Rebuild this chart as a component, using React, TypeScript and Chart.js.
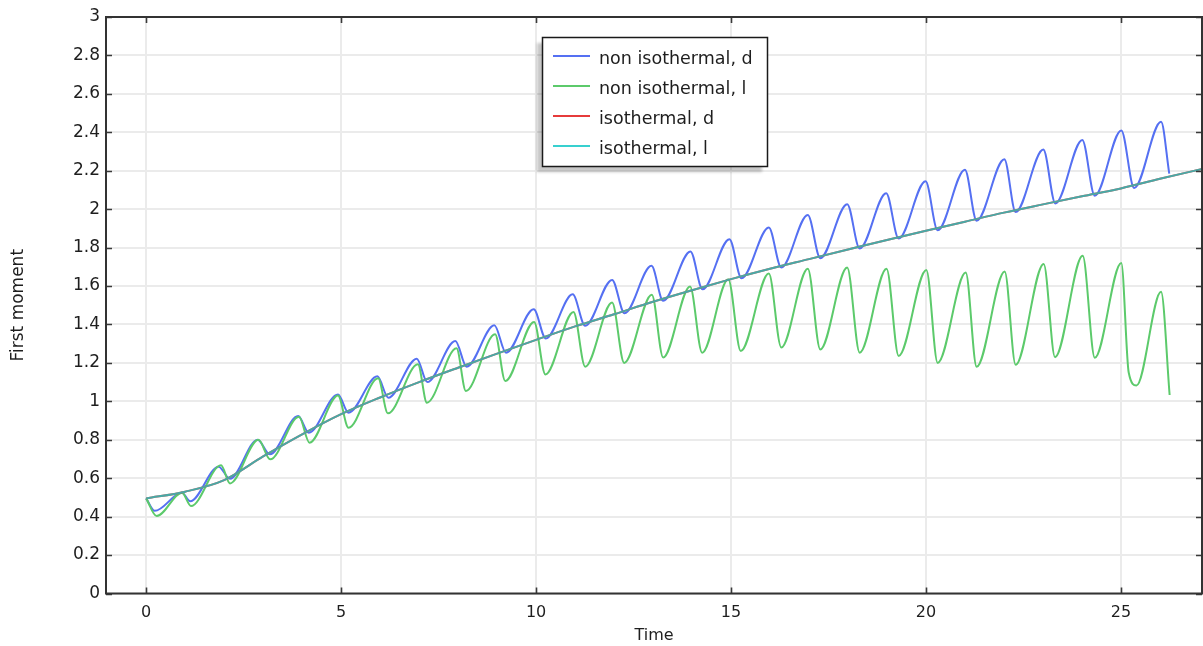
import React, { useEffect, useRef } from "react";
import { Chart, registerables } from "chart.js";

Chart.register(...registerables);

// Axis ticks
const X_TICKS = [0, 5, 10, 15, 20, 25];
const Y_TICKS = [0, 0.2, 0.4, 0.6, 0.8, 1, 1.2, 1.4, 1.6, 1.8, 2, 2.2, 2.4, 2.6, 2.8, 3];

// Series labels and colours
const SERIES_NAMES = ["non isothermal, d", "non isothermal, l", "isothermal, d", "isothermal, l"];
const SERIES_COLORS = ["#5570f2", "#5cca6b", "#e63b3b", "#38d0cf"];

// Isothermal runs (d and l coincide)
const ISO_TIME = [0, 1, 2, 3, 4, 5, 6, 7, 8, 9, 10, 11, 12, 13, 14, 15, 16, 17, 18, 19, 20, 21, 22, 23, 24, 25, 26, 27.1];
const ISO_D_VALUES = [0.495, 0.53, 0.59, 0.713, 0.828, 0.933, 1.02, 1.1, 1.175, 1.248, 1.32, 1.39, 1.453, 1.518, 1.578, 1.636, 1.69, 1.74, 1.79, 1.84, 1.888, 1.935, 1.982, 2.025, 2.067, 2.108, 2.158, 2.21];
const ISO_L_VALUES = [0.495, 0.53, 0.59, 0.713, 0.828, 0.933, 1.02, 1.1, 1.175, 1.248, 1.32, 1.39, 1.453, 1.518, 1.578, 1.636, 1.69, 1.74, 1.79, 1.84, 1.888, 1.935, 1.982, 2.025, 2.067, 2.108, 2.158, 2.21];

// Non isothermal, d: start, troughs, peaks, end
const D_START = [0, 0.495];
const D_TROUGH_T = [0.22, 1.13, 2.15, 3.17, 4.17, 5.19, 6.21, 7.21, 8.22, 9.23, 10.25, 11.26, 12.27, 13.26, 14.27, 15.27, 16.29, 17.29, 18.3, 19.3, 20.3, 21.3, 22.3, 23.32, 24.33, 25.34];
const D_TROUGH_V = [0.43, 0.48, 0.597, 0.724, 0.837, 0.941, 1.019, 1.1, 1.18, 1.253, 1.327, 1.393, 1.458, 1.523, 1.583, 1.64, 1.696, 1.745, 1.795, 1.847, 1.89, 1.94, 1.985, 2.03, 2.07, 2.11];
const D_PEAK_T = [0.92, 1.86, 2.86, 3.9, 4.92, 5.93, 6.94, 7.93, 8.93, 9.94, 10.94, 11.95, 12.96, 13.96, 14.96, 15.97, 16.97, 17.98, 18.98, 19.99, 21.0, 22.01, 23.01, 24.01, 25.01, 26.03];
const D_PEAK_V = [0.524, 0.66, 0.8, 0.924, 1.036, 1.13, 1.222, 1.314, 1.396, 1.479, 1.557, 1.632, 1.705, 1.78, 1.844, 1.905, 1.97, 2.026, 2.083, 2.145, 2.205, 2.26, 2.31, 2.36, 2.41, 2.455];
const D_END = [26.24, 2.185];

// Non isothermal, l: start, troughs, peaks, extra shoulder, end
const L_START = [0, 0.495];
const L_TROUGH_T = [0.27, 1.15, 2.15, 3.18, 4.19, 5.19, 6.2, 7.2, 8.2, 9.21, 10.24, 11.26, 12.26, 13.26, 14.26, 15.25, 16.29, 17.29, 18.3, 19.3, 20.3, 21.3, 22.3, 23.31, 24.33, 25.4];
const L_TROUGH_V = [0.403, 0.455, 0.573, 0.698, 0.785, 0.863, 0.9375, 0.993, 1.054, 1.106, 1.14, 1.18, 1.2, 1.228, 1.253, 1.262, 1.28, 1.27, 1.253, 1.236, 1.2, 1.18, 1.19, 1.23, 1.227, 1.083];
const L_PEAK_T = [0.92, 1.92, 2.88, 3.92, 4.92, 5.95, 6.97, 7.96, 8.95, 9.95, 10.96, 11.95, 12.97, 13.95, 14.93, 15.97, 16.97, 17.98, 18.99, 20.01, 21.02, 22.02, 23.02, 24.02, 25.01, 26.03];
const L_PEAK_V = [0.524, 0.667, 0.8, 0.92, 1.03, 1.12, 1.193, 1.276, 1.349, 1.413, 1.465, 1.514, 1.555, 1.597, 1.635, 1.665, 1.69, 1.696, 1.69, 1.684, 1.67, 1.675, 1.715, 1.757, 1.72, 1.57];
const L_EXTRA_T = [25.2];
const L_EXTRA_V = [1.15];
const L_END = [26.25, 1.033];

type Pt = { x: number; y: number };

function zipPoints(ts: number[], vs: number[]): Pt[] {
  return ts.map((t, i) => ({ x: t, y: vs[i] }));
}

function buildSeries(
  start: number[],
  troughT: number[],
  troughV: number[],
  peakT: number[],
  peakV: number[],
  end: number[],
  extraT: number[] = [],
  extraV: number[] = []
): Pt[] {
  const pts: Pt[] = [
    { x: start[0], y: start[1] },
    ...zipPoints(troughT, troughV),
    ...zipPoints(peakT, peakV),
    ...zipPoints(extraT, extraV),
    { x: end[0], y: end[1] },
  ];
  return pts.sort((a, b) => a.x - b.x);
}

const FONT = '"DejaVu Sans", Verdana, sans-serif';
const TEXT_COLOR = "#1e1e1e";

// Closed frame with inward tick marks on all four sides
const framePlugin = {
  id: "frameTicks",
  afterDatasetsDraw(chart: any) {
    const { ctx, chartArea } = chart;
    const { left, top, right, bottom } = chartArea;
    const xs = chart.scales.x;
    const ys = chart.scales.y;
    const len = 6;
    ctx.save();
    ctx.strokeStyle = "#3a3a3a";
    ctx.lineWidth = 1.6;
    ctx.beginPath();
    X_TICKS.forEach((v) => {
      const px = Math.round(xs.getPixelForValue(v)) + 0.5;
      ctx.moveTo(px, bottom);
      ctx.lineTo(px, bottom - len);
      ctx.moveTo(px, top);
      ctx.lineTo(px, top + len);
    });
    Y_TICKS.forEach((v) => {
      const py = Math.round(ys.getPixelForValue(v)) + 0.5;
      ctx.moveTo(left, py);
      ctx.lineTo(left + len, py);
      ctx.moveTo(right, py);
      ctx.lineTo(right - len, py);
    });
    ctx.stroke();
    ctx.lineWidth = 2;
    ctx.strokeStyle = "#333";
    ctx.strokeRect(left, top, right - left, bottom - top);
    ctx.restore();
  },
};

// Boxed legend with a drop shadow, placed inside the plot
const legendPlugin = {
  id: "boxLegend",
  afterDraw(chart: any) {
    const { ctx } = chart;
    const bx = 542;
    const by = 37;
    const bw = 225;
    const bh = 129;
    ctx.save();
    ctx.filter = "blur(1.5px)";
    ctx.fillStyle = "rgba(0,0,0,0.22)";
    ctx.fillRect(bx - 5, by + 6, bw, bh);
    ctx.filter = "none";
    ctx.fillStyle = "#ffffff";
    ctx.fillRect(bx, by, bw, bh);
    ctx.strokeStyle = "#1a1a1a";
    ctx.lineWidth = 1.5;
    ctx.strokeRect(bx + 0.5, by + 0.5, bw, bh);
    ctx.font = `17.5px ${FONT}`;
    ctx.textBaseline = "alphabetic";
    ctx.textAlign = "left";
    SERIES_NAMES.forEach((name, i) => {
      const rowY = by + 19 + i * 30;
      ctx.strokeStyle = SERIES_COLORS[i];
      ctx.lineWidth = 2;
      ctx.beginPath();
      ctx.moveTo(bx + 11, rowY);
      ctx.lineTo(bx + 48, rowY);
      ctx.stroke();
      ctx.fillStyle = TEXT_COLOR;
      ctx.fillText(name, bx + 57, rowY + 8);
    });
    ctx.restore();
  },
};

export default function App() {
  const canvasRef = useRef<HTMLCanvasElement | null>(null);

  useEffect(() => {
    const canvas = canvasRef.current;
    if (!canvas) return;

    const dSeries = buildSeries(D_START, D_TROUGH_T, D_TROUGH_V, D_PEAK_T, D_PEAK_V, D_END);
    const lSeries = buildSeries(L_START, L_TROUGH_T, L_TROUGH_V, L_PEAK_T, L_PEAK_V, L_END, L_EXTRA_T, L_EXTRA_V);
    const isoD = zipPoints(ISO_TIME, ISO_D_VALUES);
    const isoL = zipPoints(ISO_TIME, ISO_L_VALUES);

    const common = {
      pointRadius: 0,
      pointHoverRadius: 0,
      borderWidth: 2,
      fill: false,
      cubicInterpolationMode: "monotone" as const,
    };

    const chart = new Chart(canvas, {
      type: "line",
      data: {
        datasets: [
          { ...common, label: SERIES_NAMES[0], data: dSeries, borderColor: SERIES_COLORS[0], order: 3 },
          { ...common, label: SERIES_NAMES[1], data: lSeries, borderColor: SERIES_COLORS[1], order: 2 },
          { ...common, label: SERIES_NAMES[2], data: isoD, borderColor: SERIES_COLORS[2], order: 1 },
          { ...common, label: SERIES_NAMES[3], data: isoL, borderColor: "rgba(34,196,192,0.8)", order: 0 },
        ],
      },
      options: {
        responsive: false,
        maintainAspectRatio: false,
        animation: false,
        events: [],
        layout: { padding: { top: 17, right: 1, left: 0, bottom: 0 } },
        plugins: {
          legend: { display: false },
          tooltip: { enabled: false },
        },
        scales: {
          x: {
            type: "linear",
            min: -1.03,
            max: 27.08,
            afterBuildTicks: (scale: any) => {
              scale.ticks = X_TICKS.map((v) => ({ value: v }));
            },
            afterFit: (scale: any) => {
              scale.height = 52.5;
            },
            grid: { color: "#ebebeb", lineWidth: 2, drawTicks: false },
            border: { display: false },
            ticks: {
              padding: 10,
              color: TEXT_COLOR,
              font: { family: FONT, size: 16 },
              callback: (v: any) => String(v),
            },
            title: {
              display: true,
              text: "Time",
              color: TEXT_COLOR,
              font: { family: FONT, size: 16 },
              padding: { top: 0, bottom: 1 },
            },
          },
          y: {
            type: "linear",
            min: 0,
            max: 3,
            afterBuildTicks: (scale: any) => {
              scale.ticks = Y_TICKS.map((v) => ({ value: v }));
            },
            afterFit: (scale: any) => {
              scale.width = 106;
            },
            grid: { color: "#ebebeb", lineWidth: 2, drawTicks: false },
            border: { display: false },
            ticks: {
              padding: 6,
              color: TEXT_COLOR,
              font: { family: FONT, size: 17 },
              callback: (v: any) => String(Number(Number(v).toFixed(1))),
            },
            title: {
              display: true,
              text: "First moment",
              color: TEXT_COLOR,
              font: { family: FONT, size: 17 },
              padding: { top: 8, bottom: 0 },
            },
          },
        },
      },
      plugins: [framePlugin, legendPlugin],
    });

    return () => chart.destroy();
  }, []);

  return (
    <div style={{ position: "fixed", left: 0, top: 0, width: 1203, height: 646, background: "#fff" }}>
      <canvas ref={canvasRef} width={1203} height={646} />
    </div>
  );
}
